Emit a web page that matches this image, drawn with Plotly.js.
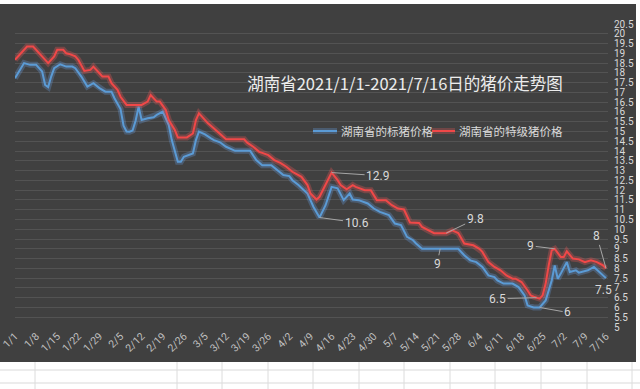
<!DOCTYPE html>
<html>
<head>
<meta charset="utf-8">
<script src="https://cdn.plot.ly/plotly-3.0.1.min.js"></script>
<style>html,body{margin:0;padding:0;background:#fff;}#chart{width:640px;height:389px;}</style>
</head>
<body>
<div id="chart"></div>
<script>
const titleText = '湖南省2021/1/1-2021/7/16日的猪价走势图';
const blueName = '湖南省的标猪价格';
const redName = '湖南省的特级猪价格';

const blueDates = ['2021-01-01','2021-01-04','2021-01-06','2021-01-08','2021-01-09','2021-01-10','2021-01-11','2021-01-12','2021-01-13','2021-01-14','2021-01-16','2021-01-18','2021-01-20','2021-01-21','2021-01-23','2021-01-25','2021-01-27','2021-01-29','2021-01-31','2021-02-02','2021-02-03','2021-02-05','2021-02-06','2021-02-07','2021-02-08','2021-02-09','2021-02-10','2021-02-11','2021-02-12','2021-02-14','2021-02-16','2021-02-17','2021-02-19','2021-02-21','2021-02-22','2021-02-24','2021-02-25','2021-02-26','2021-03-01','2021-03-02','2021-03-03','2021-03-05','2021-03-07','2021-03-08','2021-03-10','2021-03-12','2021-03-15','2021-03-20','2021-03-22','2021-03-24','2021-03-27','2021-03-29','2021-03-31','2021-04-02','2021-04-03','2021-04-05','2021-04-08','2021-04-10','2021-04-12','2021-04-14','2021-04-16','2021-04-18','2021-04-20','2021-04-22','2021-04-23','2021-04-25','2021-04-28','2021-04-30','2021-05-02','2021-05-05','2021-05-07','2021-05-09','2021-05-11','2021-05-13','2021-05-14','2021-05-16','2021-05-28','2021-05-30','2021-06-01','2021-06-03','2021-06-05','2021-06-07','2021-06-09','2021-06-10','2021-06-12','2021-06-15','2021-06-17','2021-06-19','2021-06-20','2021-06-22','2021-06-24','2021-06-26','2021-06-28','2021-06-29','2021-06-30','2021-07-01','2021-07-03','2021-07-04','2021-07-06','2021-07-07','2021-07-10','2021-07-12','2021-07-14','2021-07-16'];
const blueVals = [17.73,18.5,18.41,18.41,18.24,18.07,17.38,17.27,17.81,18.24,18.44,18.32,18.32,18.24,17.81,17.3,17.47,17.22,17.04,17.04,16.7,16.15,15.3,15.0,14.99,15.05,15.55,16.27,15.59,15.68,15.73,15.85,16.02,15.33,14.56,13.45,13.45,13.71,13.88,14.56,14.99,14.85,14.65,14.56,14.45,14.22,14.01,14.01,13.54,13.28,13.28,13.03,12.77,12.72,12.51,12.26,11.83,11.14,10.6,11.23,12.17,12.09,11.49,11.83,11.52,11.49,11.32,11.06,10.89,10.72,10.29,10.21,9.61,9.44,9.27,9.0,9.0,8.67,8.41,8.32,8.07,7.64,7.55,7.38,7.22,7.22,7.04,6.62,6.1,6.0,6.0,6.36,7.38,8.15,7.47,7.73,8.32,7.81,7.9,7.78,7.9,8.07,7.81,7.5];

const redDates = ['2021-01-01','2021-01-04','2021-01-05','2021-01-07','2021-01-08','2021-01-10','2021-01-11','2021-01-12','2021-01-14','2021-01-15','2021-01-17','2021-01-18','2021-01-19','2021-01-21','2021-01-22','2021-01-24','2021-01-26','2021-01-27','2021-01-29','2021-01-30','2021-02-01','2021-02-02','2021-02-04','2021-02-05','2021-02-07','2021-02-09','2021-02-12','2021-02-14','2021-02-15','2021-02-17','2021-02-18','2021-02-20','2021-02-21','2021-02-23','2021-02-24','2021-02-27','2021-03-01','2021-03-02','2021-03-03','2021-03-04','2021-03-06','2021-03-08','2021-03-10','2021-03-12','2021-03-18','2021-03-19','2021-03-21','2021-03-23','2021-03-24','2021-03-26','2021-03-28','2021-03-30','2021-04-01','2021-04-03','2021-04-06','2021-04-08','2021-04-09','2021-04-11','2021-04-12','2021-04-14','2021-04-16','2021-04-18','2021-04-19','2021-04-21','2021-04-23','2021-04-24','2021-04-27','2021-04-29','2021-05-01','2021-05-04','2021-05-06','2021-05-08','2021-05-10','2021-05-12','2021-05-15','2021-05-16','2021-05-18','2021-05-20','2021-05-24','2021-05-26','2021-05-28','2021-05-30','2021-06-02','2021-06-04','2021-06-05','2021-06-07','2021-06-09','2021-06-11','2021-06-13','2021-06-15','2021-06-16','2021-06-18','2021-06-20','2021-06-21','2021-06-22','2021-06-24','2021-06-25','2021-06-26','2021-06-27','2021-06-28','2021-06-29','2021-07-01','2021-07-02','2021-07-03','2021-07-05','2021-07-07','2021-07-09','2021-07-11','2021-07-13','2021-07-15','2021-07-16'];
const redVals = [18.67,19.18,19.35,19.35,19.18,18.84,18.63,18.5,18.84,19.18,19.18,19.0,18.97,18.84,18.67,18.1,18.15,18.32,17.98,17.81,17.81,17.47,17.13,16.78,16.36,16.36,16.36,16.53,16.87,16.53,16.53,16.1,15.59,15.08,14.7,14.7,14.9,15.59,15.93,15.76,15.42,15.16,14.9,14.6,14.6,14.43,14.22,13.96,13.91,13.79,13.54,13.4,13.2,12.94,12.68,12.26,11.83,11.52,11.66,12.26,12.9,12.51,12.26,12.04,12.26,12.17,12.0,12.0,11.49,11.49,11.23,11.06,11.01,10.35,10.32,10.12,9.95,9.8,9.8,9.95,9.81,9.27,9.18,9.0,8.84,8.32,8.07,7.9,7.64,7.47,7.47,7.3,6.87,6.62,6.55,6.45,6.62,7.22,8.15,8.92,9.0,8.58,8.58,8.87,8.5,8.46,8.32,8.41,8.32,8.15,8.0];

const tickDates = ['2021-01-01','2021-01-08','2021-01-15','2021-01-22','2021-01-29','2021-02-05','2021-02-12','2021-02-19','2021-02-26','2021-03-05','2021-03-12','2021-03-19','2021-03-26','2021-04-02','2021-04-09','2021-04-16','2021-04-23','2021-04-30','2021-05-07','2021-05-14','2021-05-21','2021-05-28','2021-06-04','2021-06-11','2021-06-18','2021-06-25','2021-07-02','2021-07-09','2021-07-16'];
const tickLabels = ['1/1','1/8','1/15','1/22','1/29','2/5','2/12','2/19','2/26','3/5','3/12','3/19','3/26','4/2','4/9','4/16','4/23','4/30','5/7','5/14','5/21','5/28','6/4','6/11','6/18','6/25','7/2','7/9','7/16'];

// data labels
const labelDates = ['2021-04-16','2021-04-12','2021-05-24','2021-05-22','2021-06-23','2021-06-24','2021-06-29','2021-07-16','2021-07-16'];
const labelVals = [12.9,10.6,9.8,9,6.5,6,9,8,7.5];
const labelTexts = ['12.9','10.6','9.8','9','6.5','6','9','8','7.5'];
const labelDx = [46,37,29,-3,-39,28,-24,-9,-2];
const labelDy = [3,5,-14,15,1,5,-3,-32,12];

// pixel helpers for paper-positioned decorations (plot area: x 15..608, y 24..327)
const L = 15, R = 32, T = 24, B = 62, W = 640, H = 389;
const pw = W - L - R, ph = H - T - B;
const px = v => (v - L) / pw;
const py = v => (H - B - v) / ph;

const BLUE = '#5b9bd5', RED = '#f04848';
const BLUE_GLOW = '#6fb0ff', RED_GLOW = '#ff5a5a';
const traces = [
  {x: blueDates, y: blueVals, type: 'scatter', mode: 'lines', line: {color: BLUE_GLOW, width: 6}, opacity: 0.25, showlegend: false, hoverinfo: 'skip'},
  {x: blueDates, y: blueVals, type: 'scatter', mode: 'lines', name: blueName, line: {color: BLUE, width: 2}, showlegend: false},
  {x: redDates, y: redVals, type: 'scatter', mode: 'lines', line: {color: RED_GLOW, width: 6}, opacity: 0.28, showlegend: false, hoverinfo: 'skip'},
  {x: redDates, y: redVals, type: 'scatter', mode: 'lines', name: redName, line: {color: RED, width: 2}, showlegend: false}
];

const labelFont = {family: 'Liberation Sans Narrow, Roboto, sans-serif', size: 12, color: '#d9d9d9'};
const annotations = labelTexts.map((t, i) => ({
  x: labelDates[i], y: labelVals[i], xref: 'x', yref: 'y', text: t,
  showarrow: i !== 8, arrowhead: 0, arrowwidth: 1, arrowcolor: '#a6a6a6',
  ax: labelDx[i], ay: labelDy[i],
  xshift: i === 8 ? labelDx[i] : 0, yshift: i === 8 ? -labelDy[i] : 0,
  font: labelFont
}));

// legend (drawn as key lines + text, placed like the original)
const legendFont = {family: 'Noto Sans CJK SC, sans-serif', size: 11.5, color: '#d9d9d9'};
const legendItems = [
  {name: blueName, color: BLUE, glow: BLUE_GLOW, x0: 313, x1: 337, tx: 339},
  {name: redName, color: RED, glow: RED_GLOW, x0: 432, x1: 455, tx: 457}
];
const legendY = 131;

const shapes = [
  {type: 'rect', xref: 'paper', yref: 'paper', x0: px(0), x1: px(636), y0: py(362), y1: py(4), fillcolor: '#404040', line: {width: 0}, layer: 'below'}
];
[370, 383].forEach(yy => shapes.push({type: 'line', xref: 'paper', yref: 'paper', x0: px(0), x1: px(640), y0: py(yy), y1: py(yy), line: {color: '#d9d9d9', width: 1}, layer: 'below'}));
[35, 177, 222, 268, 313, 359, 404, 450, 495, 541, 587, 632].forEach(xx => shapes.push({type: 'line', xref: 'paper', yref: 'paper', x0: px(xx), x1: px(xx), y0: py(362), y1: py(389), line: {color: '#dcdcdc', width: 1}, layer: 'below'}));
legendItems.forEach(it => {
  shapes.push({type: 'line', xref: 'paper', yref: 'paper', x0: px(it.x0), x1: px(it.x1), y0: py(legendY), y1: py(legendY), line: {color: it.glow, width: 6}, opacity: 0.25, layer: 'above'});
  shapes.push({type: 'line', xref: 'paper', yref: 'paper', x0: px(it.x0), x1: px(it.x1), y0: py(legendY), y1: py(legendY), line: {color: it.color, width: 2}, layer: 'above'});
  annotations.push({xref: 'paper', yref: 'paper', x: px(it.tx), y: py(legendY), xanchor: 'left', yanchor: 'middle', text: it.name, showarrow: false, font: legendFont});
});

const layout = {
  width: W, height: H,
  margin: {l: L, r: R, t: T, b: B, pad: 0},
  paper_bgcolor: '#ffffff',
  plot_bgcolor: '#404040',
  title: {text: titleText, xref: 'container', yref: 'container', x: 405 / W, y: 1 - 84 / H, xanchor: 'center', yanchor: 'middle',
    font: {family: 'Noto Sans CJK SC, sans-serif', size: 16.5, color: '#ececec'}},
  xaxis: {type: 'date', range: ['2021-01-01', '2021-07-16 16:00'], tickmode: 'array', tickvals: tickDates, ticktext: tickLabels,
    tickangle: -45, showgrid: false, zeroline: false, showline: false, ticks: '',
    tickfont: {family: 'Liberation Sans Narrow, Roboto, sans-serif', size: 10.5, color: '#bfbfbf'}},
  yaxis: {side: 'right', range: [5, 20.5], dtick: 0.5, tick0: 5, showgrid: true, gridcolor: '#535353', gridwidth: 1,
    zeroline: false, showline: false, ticks: '', ticklabelstandoff: 5,
    tickfont: {family: 'Liberation Sans Narrow, Roboto, sans-serif', size: 10, color: '#d9d9d9'}},
  annotations: annotations,
  shapes: shapes,
  showlegend: false
};

Plotly.newPlot('chart', traces, layout, {displayModeBar: false, staticPlot: true});
</script>
</body>
</html>
